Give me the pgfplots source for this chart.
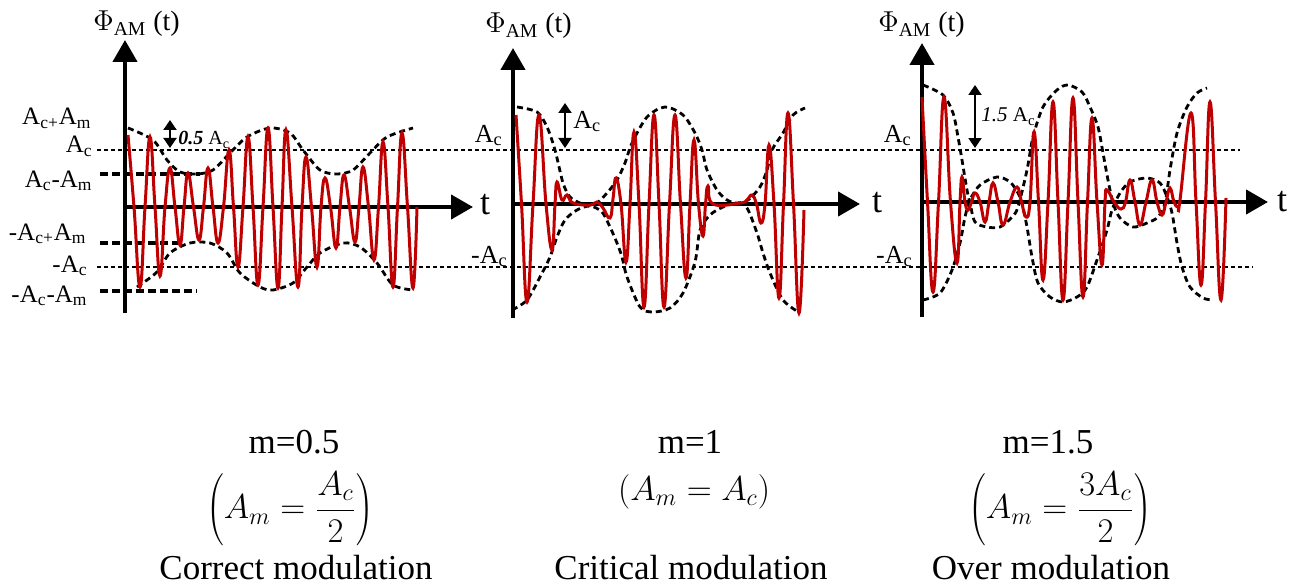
\documentclass[border=0pt]{standalone}
\usepackage{pgfplots}
\pgfplotsset{compat=1.18}
\usepackage{fontspec}
\setmainfont{Liberation Serif}
\usetikzlibrary{arrows.meta}

\definecolor{wave}{RGB}{192,0,0}

% one pixel of the reference = 0.5pt; x in pixels from the y axis, y in pixels above the t axis
\pgfplotsset{
  amframe/.style={
    axis lines=middle, x=0.5pt, y=0.5pt, xmin=0, anchor=origin, clip=false,
    xtick=\empty, ytick=\empty,
    axis line style={line width=2.2pt, -{Triangle[length=11pt,width=12pt]}},
  },
  carrier/.style={color=wave, line width=1.5pt, smooth, tension=0.75, no markers},
  envelope/.style={black, line width=1.4pt, dash pattern=on 3pt off 2pt, smooth, no markers},
}
\tikzset{
  level/.style={black, line width=0.7pt, dash pattern=on 2pt off 1.5pt},
  tickdash/.style={black, line width=2pt, dash pattern=on 4pt off 2pt},
  dbl/.style={{Triangle[length=5pt,width=6.5pt]}-{Triangle[length=5pt,width=6.5pt]}, line width=1pt},
  lab/.style={inner sep=0pt},
}

\begin{document}
\begin{tikzpicture}
\useasboundingbox (0,0) rectangle (647.5pt,292.5pt);

% ---------- m = 0.5 ----------
\begin{axis}[amframe, at={(62.5pt,189pt)}, xmax=348, ymin=-106, ymax=167]
  \draw[level] (axis cs:-28,57) -- (axis cs:1115,57);
  \draw[level] (axis cs:-28,-60) -- (axis cs:1128,-60);
  \draw[tickdash] (axis cs:-25,33) -- (axis cs:75,33);
  \draw[tickdash] (axis cs:-25,-36) -- (axis cs:58,-36);
  \draw[tickdash] (axis cs:-25,-84) -- (axis cs:72,-84);

  \addplot[envelope] coordinates {(3,79) (28,67) (42,47) (55,35) (72,33) (88,37) (105,54) (122,70) (145,79) (165,74) (178,57) (195,37) (212,33) (228,37) (245,54) (262,70) (288,79)};
  \addplot[envelope] coordinates {(12,-80) (32,-65) (45,-46) (65,-36) (85,-36) (102,-46) (115,-66) (135,-80) (148,-83) (168,-76) (182,-60) (195,-46) (218,-36) (235,-40) (252,-56) (268,-78) (288,-83)};
  \addplot[carrier] coordinates {(3,72) (9,0) (15,-80) (20,0) (25,70) (30,0) (35,-69) (40,0) (45,39) (50,0) (55,-38) (59,0) (63,34) (68.5,0) (74,-33) (78.5,0) (83,39) (88,0) (93,-36) (98.5,0) (104,57) (108.5,0) (113,-60) (118,0) (123,70) (128,0) (133,-78) (138,0) (143,79) (148,0) (153,-81) (157,0) (161,77) (167,0) (173,-80) (177,0) (181,50) (186.5,0) (192,-60) (196,0) (200,29) (205.5,0) (211,-41) (215,0) (219,32) (224.5,0) (230,-35) (234,0) (238,40) (243.5,0) (249,-53) (253.5,0) (258,65) (263,0) (268,-80) (272.5,0) (277,74) (282.5,0) (288,-81) (292,0)};

  \begin{scope}[font=\fontsize{12.5}{14}\selectfont]
    \node[lab, anchor=base east] at (axis cs:-33,82) {A\textsubscript{c+}A\textsubscript{m}};
    \node[lab, anchor=base east] at (axis cs:-32,54) {A\textsubscript{c}};
    \node[lab, anchor=base east] at (axis cs:-32,20) {A\textsubscript{c}-A\textsubscript{m}};
    \node[lab, anchor=base east] at (axis cs:-38,-33) {-A\textsubscript{c+}A\textsubscript{m}};
    \node[lab, anchor=base east] at (axis cs:-37,-65) {-A\textsubscript{c}};
    \node[lab, anchor=base east] at (axis cs:-37,-95) {-A\textsubscript{c}-A\textsubscript{m}};
  \end{scope}
  \draw[dbl] (axis cs:45,87) -- (axis cs:45,59);
  \node[lab, anchor=base west, font=\fontsize{10}{12}\selectfont] at (axis cs:53,62) {\textbf{\textit{0.5}} A\textsubscript{c}};
  \node[lab, anchor=base west, font=\fontsize{14}{16}\selectfont] at (axis cs:-32,176) {$\Phi$\textsubscript{AM} (t)};
  \node[lab, font=\fontsize{18}{20}\selectfont] at (axis cs:360,2) {t};
\end{axis}

% ---------- m = 1 ----------
\begin{axis}[amframe, at={(256.5pt,190.5pt)}, xmax=347, ymin=-114, ymax=156]
  \addplot[envelope] coordinates {(4,97) (24,92) (34,77) (42,54) (50,21) (57,7) (67,1) (77,-1) (84,1) (94,11) (104,24) (112,41) (119,61) (134,87) (152,97) (170,89) (182,71) (189,54) (194,34) (204,14) (214,4) (224,1) (235,4) (247,17) (254,34) (259,54) (270,71) (280,89) (292,96)};
  \addplot[envelope] coordinates {(-1,-106) (14,-96) (27,-73) (37,-53) (44,-33) (52,-16) (64,-6) (77,-2) (89,-8) (97,-23) (104,-39) (109,-53) (114,-73) (127,-103) (140,-108) (157,-104) (170,-89) (182,-58) (187,-26) (197,-11) (210,-3) (224,1) (234,-4) (244,-29) (250,-49) (257,-69) (270,-96) (287,-109)};
  \addplot[carrier] coordinates {(3,89) (8.5,0) (14,-98) (20,0) (26,89) (33,0) (39,-46) (42,0) (44,22) (49,4) (54,9) (60,1) (77,-1) (84,2) (90,-4) (97,-14) (100,5) (103,26) (108,0) (113,-58) (117,0) (121,72) (126,0) (131,-103) (136,0) (141,89) (146,0) (151,-103) (156.5,0) (162,89) (167.5,0) (173,-74) (177,0) (181,64) (185.5,0) (190,-32) (192.5,0) (195,18) (200,0) (227,1) (234,4) (239,9) (243.5,0) (248,-19) (252,0) (256,59) (261,0) (266,-94) (270.5,0) (275,91) (280.5,0) (286,-109) (291,-6)};

  \begin{scope}[font=\fontsize{13}{15}\selectfont]
    \node[lab, anchor=base east] at (axis cs:-10,62) {A\textsubscript{c}};
    \node[lab, anchor=base east] at (axis cs:-5,-59) {-A\textsubscript{c}};
    \node[lab, anchor=base west] at (axis cs:60,76) {A\textsubscript{c}};
  \end{scope}
  \draw[dbl] (axis cs:52,101) -- (axis cs:52,56);
  \node[lab, anchor=base west, font=\fontsize{14}{16}\selectfont] at (axis cs:-28,171) {$\Phi$\textsubscript{AM} (t)};
  \node[lab, font=\fontsize{18}{20}\selectfont] at (axis cs:364,1) {t};
\end{axis}

% ---------- m = 1.5 ----------
\begin{axis}[amframe, at={(461pt,191.5pt)}, xmax=346, ymin=-115, ymax=159]
  \addplot[envelope] coordinates {(1,117) (21,107) (31,89) (36,65) (40,42) (45,12) (48,-1) (53,-20) (65,-25) (78,-25) (90,-15) (96,-5) (105,32) (111,65) (121,95) (135,112) (146,117) (160,110) (168,95) (176,75) (181,49) (186,22) (191,-1) (198,-16) (211,-25) (225,-21) (236,-15) (243,-1) (248,32) (255,69) (265,95) (275,109) (285,114)};
  \addplot[envelope] coordinates {(1,-98) (18,-91) (30,-68) (38,-41) (43,-15) (48,2) (58,17) (75,25) (88,20) (96,9) (100,-1) (105,-25) (110,-55) (116,-81) (128,-95) (141,-100) (155,-95) (165,-85) (176,-55) (185,-28) (190,-8) (198,9) (208,20) (225,24) (238,19) (245,5) (250,-11) (255,-41) (260,-65) (268,-85) (281,-96) (291,-98)};
  \addplot[carrier] coordinates {(0,105) (5.5,0) (11,-90) (16.5,0) (22,105) (28.5,0) (35,-61) (38,0) (40,25) (43,0) (46,-8) (49.5,0) (53,9) (58,0) (63,-20) (67,0) (71,19) (76,0) (81,-23) (88,0) (95,15) (99.5,0) (104,-15) (108,0) (112,70) (116.5,0) (121,-78) (126,0) (131,100) (136,0) (141,-98) (146,0) (151,104) (156,0) (161,-95) (165.5,0) (170,84) (175,0) (180,-63) (183,0) (185,12) (192,0) (199,-7) (203.5,0) (208,22) (213,0) (218,-23) (224,0) (230,22) (235,0) (240,-13) (244,0) (248,14) (252,0) (256,-5) (258,2) (269,89) (274,0) (279,-83) (283.5,0) (288,100) (293.5,0) (299,-98) (304,4)};

  \begin{scope}[font=\fontsize{13}{15}\selectfont]
    \node[lab, anchor=base east] at (axis cs:-10,60) {A\textsubscript{c}};
    \node[lab, anchor=base east] at (axis cs:-9,-61) {-A\textsubscript{c}};
  \end{scope}
  \draw[dbl] (axis cs:53,117) -- (axis cs:53,54);
  \node[lab, anchor=base west, font=\fontsize{10.5}{12}\selectfont] at (axis cs:59,80) {\textit{1.5} A\textsubscript{c}};
  \node[lab, anchor=base west, font=\fontsize{14}{16}\selectfont] at (axis cs:-44,170) {$\Phi$\textsubscript{AM} (t)};
  \node[lab, font=\fontsize{18}{20}\selectfont] at (axis cs:360,0) {t};
\end{axis}

% ---------- captions ----------
\begin{scope}[font=\fontsize{17.5}{20}\selectfont]
  \node[anchor=base] at (147pt,66pt) {m=0.5};
  \node at (145pt,38pt) {$\displaystyle\left(A_m=\frac{A_c}{2}\right)$};
  \node[lab, anchor=base] at (148pt,3pt) {Correct modulation};
  \node[anchor=base] at (345pt,66pt) {m=1};
  \node at (347pt,46.5pt) {$(A_m=A_c)$};
  \node[lab, anchor=base] at (345.5pt,3pt) {Critical modulation};
  \node[anchor=base] at (524pt,66pt) {m=1.5};
  \node at (530pt,38pt) {$\displaystyle\left(A_m=\frac{3A_c}{2}\right)$};
  \node[lab, anchor=base] at (525.5pt,3pt) {Over modulation};
\end{scope}
\end{tikzpicture}
\end{document}
